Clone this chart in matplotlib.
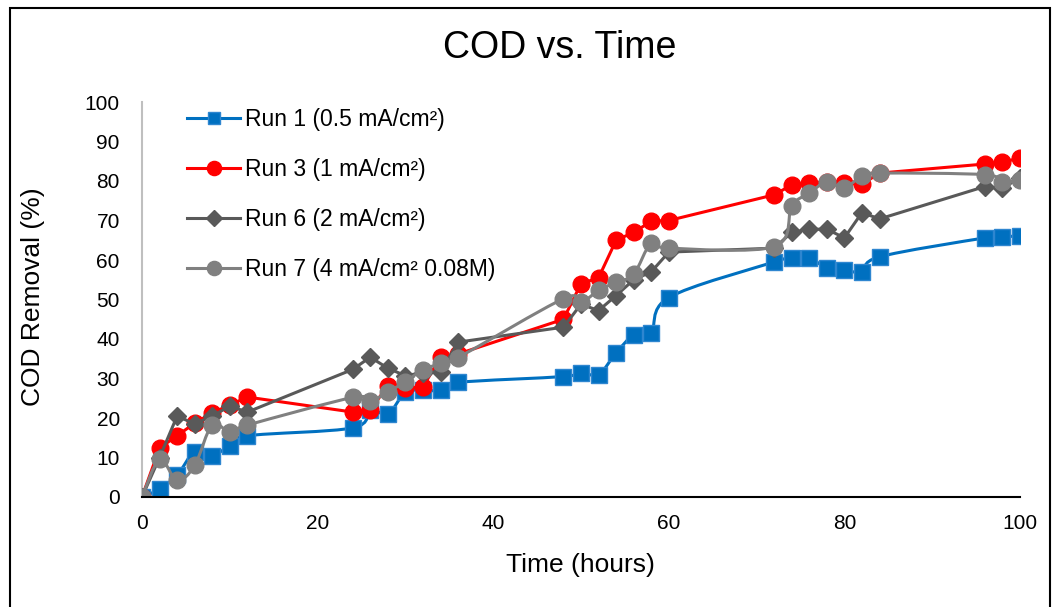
import numpy as np
import matplotlib.pyplot as plt
from matplotlib.path import Path
from matplotlib.patches import PathPatch, Rectangle
from matplotlib.lines import Line2D

plt.rcParams['font.family'] = ['Liberation Sans', 'DejaVu Sans']

hours = [0, 2, 4, 6, 8, 10, 12, 24, 26, 28, 30, 32, 34, 36,
         48, 50, 52, 54, 56, 58, 60, 72, 74, 76, 78, 80, 82, 84, 96, 98, 100]

run1 = [0, 2, 5.5, 11.5, 10.5, 13, 15.5, 17.5, 22, 21, 26.5, 27, 27, 29,
        30.5, 31.5, 31, 36.5, 41, 41.5, 50.5, 59.5, 60.5, 60.5, 58, 57.5, 57, 60.8, 65.6, 65.8, 66.2]
run3 = [0, 12.4, 15.5, 18.7, 21.3, 23.3, 25.3, 21.5, 22, 28.2, 27.6, 27.8, 35.5, 36.2,
        45, 54, 55.5, 65, 67, 69.8, 70, 76.5, 79, 79.5, 79.7, 79.5, 79.2, 82, 84.3, 84.8, 85.8]
run6 = [0, 10, 20.5, 18.5, 20.5, 23, 21.5, 32.3, 35.4, 32.6, 30.7, 31.5, 31.6, 39.2,
        43, 48.8, 47.2, 51, 55, 57, 62, 63, 67, 67.8, 67.8, 65.6, 72, 70.4, 78.6, 78.2, 80.8]
run7 = [0, 9.5, 4.2, 8, 18.3, 16.4, 18.2, 25.2, 24.3, 26.6, 29.2, 32.2, 33.8, 35.3,
        50.2, 49.3, 52.3, 54.4, 56.4, 64.3, 63, 63.4, 73.6, 77, 79.7, 78.3, 81.3, 82, 81.6, 79.7, 80.3]

labels = ['Run 1 (0.5 mA/cm\u00b2)', 'Run 3 (1 mA/cm\u00b2)',
          'Run 6 (2 mA/cm\u00b2)', 'Run 7 (4 mA/cm\u00b2 0.08M)']


def smooth_path(x, y):
    # cubic bezier through the points, tangents from neighbouring points
    pts = np.column_stack([x, y]).astype(float)
    n = len(pts)
    verts = [pts[0]]
    codes = [Path.MOVETO]
    for i in range(n - 1):
        p0 = pts[max(i - 1, 0)]
        p1 = pts[i]
        p2 = pts[i + 1]
        p3 = pts[min(i + 2, n - 1)]
        c1 = p1 + (p2 - p0) / 6.0
        c2 = p2 - (p3 - p1) / 6.0
        verts += [c1, c2, p2]
        codes += [Path.CURVE4] * 3
    return Path(verts, codes)


fig = plt.figure(figsize=(10.6, 6.07), dpi=100)
ax = fig.add_axes([142 / 1060, 1 - 497 / 607, 878 / 1060, 395 / 607])

styles = [
    dict(color='#0070C0', marker='s', ms=11, mec='#2E86D0', smooth=True),
    dict(color='#FF0000', marker='o', ms=12, mec='#FF0000', smooth=False),
    dict(color='#595959', marker='D', ms=9.5, mec='#595959', smooth=False),
    dict(color='#808080', marker='o', ms=12, mec='#808080', smooth=True),
]
series = [run1, run3, run6, run7]

handles = []
for k, (vals, st) in enumerate(zip(series, styles)):
    z = 2 + k
    if st['smooth']:
        ax.add_patch(PathPatch(smooth_path(hours, vals), fill=False,
                               edgecolor=st['color'], lw=2.2, zorder=z))
        ax.plot(hours, vals, linestyle='none', marker=st['marker'], ms=st['ms'],
                color=st['color'], mec=st['mec'], mew=1, zorder=z)
    else:
        ax.plot(hours, vals, color=st['color'], lw=2.2, marker=st['marker'],
                ms=st['ms'], mec=st['mec'], mew=1, zorder=z)
    handles.append(Line2D([], [], color=st['color'], lw=2.2, marker=st['marker'],
                          ms=st['ms'] * 0.85, mec=st['mec']))

ax.set_xlim(0, 100)
ax.set_ylim(0, 100)
ax.set_xticks(range(0, 101, 20))
ax.set_yticks(range(0, 101, 10))
ax.tick_params(length=0, labelsize=15, colors='black')
ax.tick_params(axis='y', pad=16)
ax.tick_params(axis='x', pad=12)
for s in ['top', 'right']:
    ax.spines[s].set_visible(False)
ax.spines['left'].set_color('#BFBFBF')
ax.spines['left'].set_linewidth(1.5)
ax.spines['bottom'].set_color('black')
ax.spines['bottom'].set_linewidth(1.5)
ax.spines['bottom'].set_zorder(10)
for sp in ax.spines.values():
    sp.set_clip_on(False)

fig.text(560 / 1060, 1 - 48 / 607, 'COD vs. Time', fontsize=27, ha='center', va='center')
fig.text(580 / 1060, 1 - 565 / 607, 'Time (hours)', fontsize=19, ha='center', va='center')
fig.text(33 / 1060, 1 - 297 / 607, 'COD Removal (%)', fontsize=19, ha='center',
         va='center', rotation=90)

ax.legend(handles, labels, loc='upper left', bbox_to_anchor=(0.028, 1.038),
          frameon=False, fontsize=16.5, handlelength=2.3, handletextpad=0.22,
          labelspacing=1.18)

# outer chart border
fig.patches.append(Rectangle((10 / 1060, -0.02), 1040 / 1060, 1.02 - 8 / 607,
                             transform=fig.transFigure, fill=False,
                             edgecolor='black', lw=1.5))

fig.savefig('out.png', dpi=100)
